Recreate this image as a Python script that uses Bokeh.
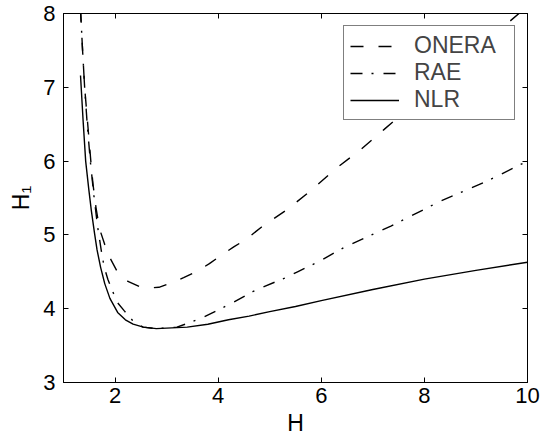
from bokeh.plotting import figure
from bokeh.models import LinearAxis, FixedTicker, Range1d
from bokeh.embed import file_html
from bokeh.resources import INLINE

# ---- data ----
x_ticks = [2, 4, 6, 8, 10]
y_ticks = [3, 4, 5, 6, 7, 8]

H_onera = [1.33, 1.37, 1.41, 1.47, 1.53, 1.57, 1.63, 1.70, 1.80, 1.90, 2.03, 2.25,
           2.47, 2.65, 2.85, 3.05, 3.33, 3.57, 3.83, 4.05, 4.31, 4.54, 4.83, 5.35,
           5.80, 6.25, 6.77, 7.22, 8.00, 9.00, 10.00]
H1_onera = [8.05, 7.50, 7.00, 6.50, 6.00, 5.70, 5.37, 5.08, 4.87, 4.69, 4.52, 4.37,
            4.30, 4.28, 4.29, 4.34, 4.42, 4.50, 4.61, 4.72, 4.84, 4.94, 5.10, 5.35,
            5.60, 5.88, 6.16, 6.43, 6.90, 7.50, 8.10]

H_rae = [1.33, 1.37, 1.41, 1.46, 1.52, 1.59, 1.66, 1.73, 1.79, 1.86, 1.95, 2.05,
         2.18, 2.34, 2.54, 2.80, 3.20, 3.44, 3.67, 4.05, 4.28, 4.67, 4.89, 5.31,
         5.54, 5.93, 6.44, 7.35, 8.32, 9.22, 10.00]
H1_rae = [8.05, 7.50, 7.00, 6.50, 6.00, 5.53, 5.12, 4.80, 4.56, 4.40, 4.24, 4.08,
          3.97, 3.84, 3.75, 3.73, 3.75, 3.81, 3.87, 4.00, 4.08, 4.23, 4.30, 4.42,
          4.50, 4.63, 4.83, 5.12, 5.46, 5.73, 6.00]

H_nlr = [1.33, 1.38, 1.43, 1.49, 1.54, 1.60, 1.65, 1.72, 1.80, 1.90, 2.05, 2.20,
         2.35, 2.55, 2.80, 3.10, 3.40, 3.80, 4.20, 4.60, 5.00, 5.50, 6.00, 7.00,
         8.00, 9.00, 10.00]
H1_nlr = [7.16, 6.55, 6.00, 5.62, 5.33, 5.03, 4.80, 4.56, 4.34, 4.14, 3.95, 3.85,
          3.79, 3.75, 3.73, 3.74, 3.75, 3.79, 3.85, 3.90, 3.96, 4.03, 4.11, 4.26,
          4.40, 4.52, 4.63]

FONT = "Liberation Sans"

p = figure(frame_width=464, frame_height=369,
           x_range=Range1d(1, 10), y_range=Range1d(3, 8),
           output_backend="svg", toolbar_location=None,
           min_border_left=63, min_border_right=14,
           min_border_top=13, min_border_bottom=63,
           background_fill_color="white", border_fill_color="white")
p.grid.visible = False
p.outline_line_color = "black"
p.outline_line_width = 1

for ax in (p.xaxis[0], p.yaxis[0]):
    ax.major_tick_in = 5
    ax.major_tick_out = 0
    ax.minor_tick_line_color = None
    ax.axis_line_color = "black"
    ax.major_tick_line_color = "black"
    ax.major_label_text_font = FONT
    ax.major_label_text_font_size = "22px"
    ax.major_label_text_color = "black"
    ax.axis_label_text_font = FONT
    ax.axis_label_text_font_size = "23px"
    ax.axis_label_text_font_style = "normal"
    ax.axis_label_text_color = "black"
p.xaxis.ticker = FixedTicker(ticks=x_ticks)
p.yaxis.ticker = FixedTicker(ticks=y_ticks)
p.xaxis.major_label_standoff = 5
p.yaxis.major_label_standoff = 8
p.xaxis.axis_label = "H"
p.xaxis.axis_label_standoff = 4
p.yaxis.axis_label = "H\u2081"
p.yaxis.axis_label_standoff = 6

for side, ticks in (("above", x_ticks), ("right", y_ticks)):
    ax = LinearAxis(ticker=FixedTicker(ticks=ticks),
                    major_tick_in=5, major_tick_out=0,
                    minor_tick_line_color=None,
                    axis_line_color="black",
                    major_label_overrides={t: "" for t in ticks},
                    major_label_text_font_size="1px",
                    major_label_standoff=0)
    p.add_layout(ax, side)

p.line(H_onera, H1_onera, line_color="black", line_width=1.4,
       line_dash="13 15", legend_label="ONERA")
p.line(H_rae, H1_rae, line_color="black", line_width=1.4,
       line_dash="12 9 2 10", legend_label="RAE")
p.line(H_nlr, H1_nlr, line_color="black", line_width=1.4,
       legend_label="NLR")

lg = p.legend[0]
lg.location = "top_right"
lg.margin = 12
lg.padding = 6
lg.spacing = 0
lg.glyph_width = 49
lg.glyph_height = 22
lg.label_height = 22
lg.label_width = 94
lg.label_standoff = 15
lg.label_text_font = FONT
lg.label_text_font_size = "23px"
lg.border_line_color = "black"
lg.border_line_width = 1
lg.background_fill_alpha = 1

open("out.html", "w").write(file_html(p, INLINE))
